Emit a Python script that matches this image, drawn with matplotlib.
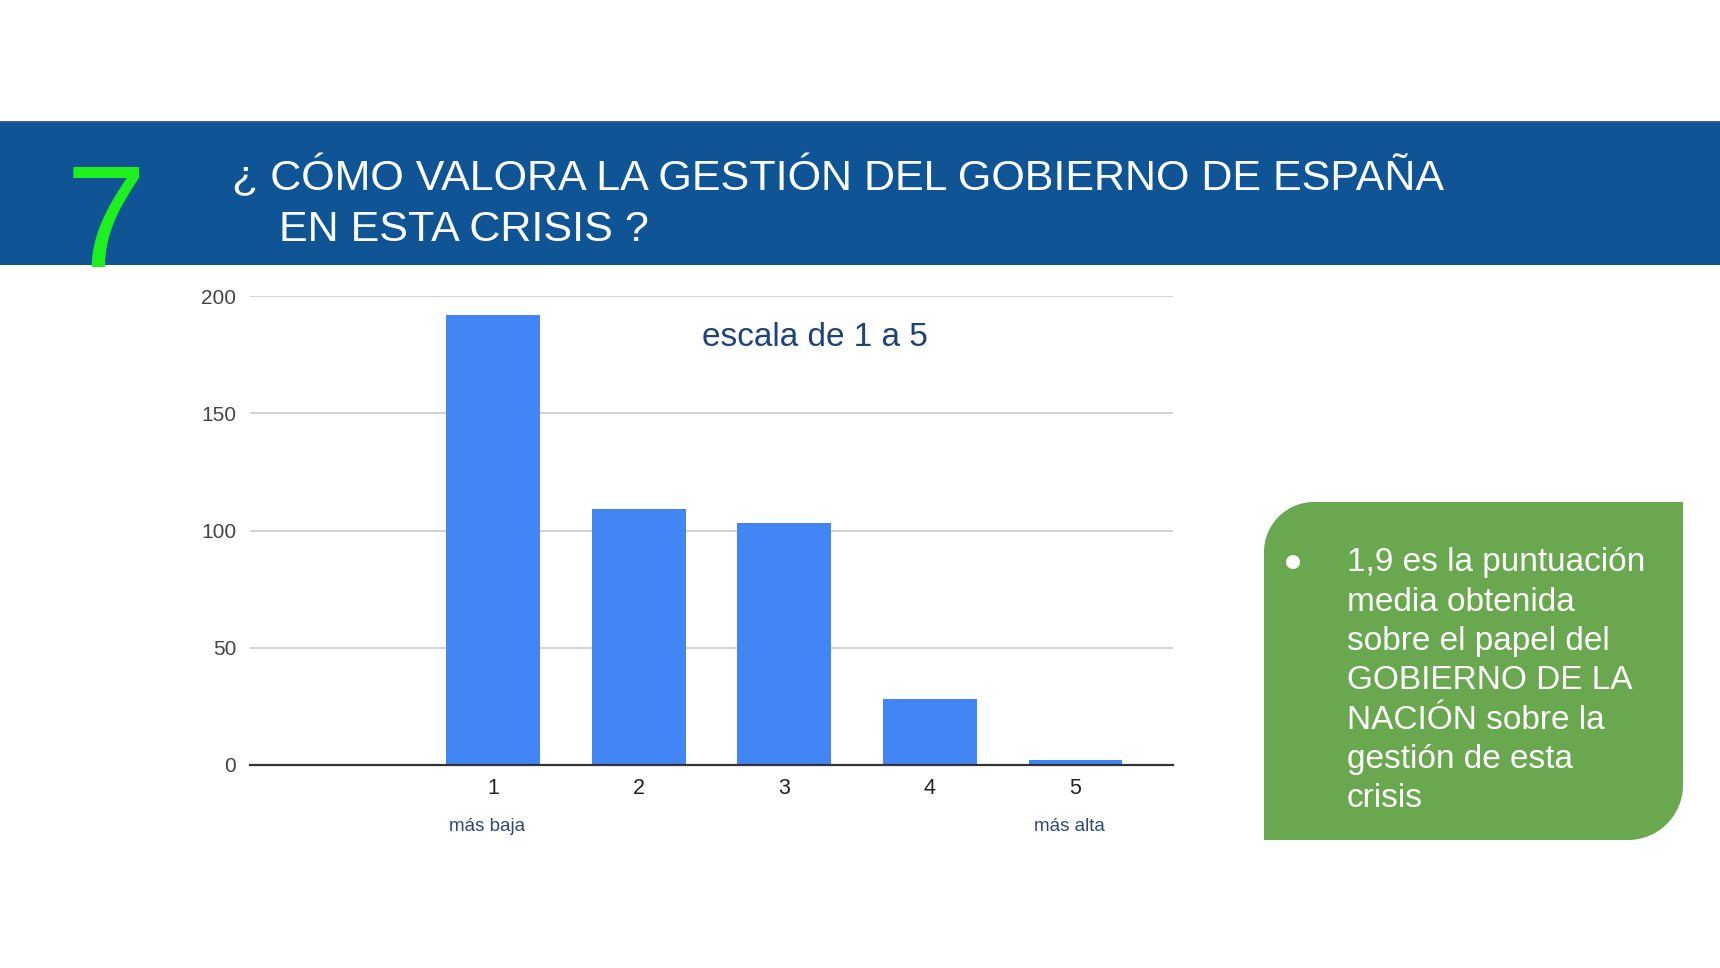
import matplotlib
matplotlib.use("Agg")
import matplotlib.pyplot as plt
from matplotlib.path import Path
from matplotlib.patches import PathPatch, Rectangle, Circle

# ---- data ----
categories = ["", "1", "2", "3", "4", "5"]
values = [0, 192, 109, 103, 28, 2]
scale_labels = {1: "más baja", 5: "más alta"}
y_ticks = [0, 50, 100, 150, 200]
title_lines = ["¿ CÓMO VALORA LA GESTIÓN DEL GOBIERNO DE ESPAÑA", "EN ESTA CRISIS ?"]
question_number = "7"
chart_note = "escala de 1 a 5"
box_lines = ["1,9 es la puntuación", "media obtenida", "sobre el papel del",
             "GOBIERNO DE LA", "NACIÓN sobre la", "gestión de esta", "crisis"]

plt.rcParams['font.family'] = ['Liberation Sans', 'DejaVu Sans']

W, H = 1720, 968
fig = plt.figure(figsize=(W / 100, H / 100), dpi=100)
fig.patch.set_facecolor("white")

# background layer in pixel coordinates
bg = fig.add_axes([0, 0, 1, 1])
bg.set_xlim(0, W)
bg.set_ylim(H, 0)
bg.axis("off")

# header band
bg.add_patch(Rectangle((0, 121), W, 144, facecolor="#0F5495", edgecolor="none"))
bg.plot([0, W], [121.5, 121.5], color="#3b5f86", lw=1.2)
bg.text(66, 267, question_number, color="#1EF01E", fontsize=104, va="baseline", ha="left")
bg.text(232, 190, title_lines[0], color="white", fontsize=31, va="baseline", ha="left")
bg.text(279, 241, title_lines[1], color="white", fontsize=31, va="baseline", ha="left")

# green box with rounded top-left and bottom-right corners
x0, x1, y0, y1 = 1264, 1683, 502, 840
r1, r2 = 50, 55
k = 0.5523
verts = [
    (x0 + r1, y0), (x1, y0), (x1, y1 - r2),
    (x1, y1 - r2 + k * r2), (x1 - r2 + k * r2, y1), (x1 - r2, y1),
    (x0, y1), (x0, y0 + r1),
    (x0, y0 + r1 - k * r1), (x0 + r1 - k * r1, y0), (x0 + r1, y0),
]
codes = [Path.MOVETO, Path.LINETO, Path.LINETO,
         Path.CURVE4, Path.CURVE4, Path.CURVE4,
         Path.LINETO, Path.LINETO,
         Path.CURVE4, Path.CURVE4, Path.CURVE4]
bg.add_patch(PathPatch(Path(verts, codes), facecolor="#6AA84F", edgecolor="none"))
bg.add_patch(Circle((1293, 562), 7, facecolor="white", edgecolor="none"))
for i, line in enumerate(box_lines):
    bg.text(1347, 563 + i * 39.3, line, color="white", fontsize=24, va="center", ha="left")

# chart axes
ax = fig.add_axes([250 / W, (H - 765) / H, (1173 - 250) / W, (765 - 296) / H])
x = list(range(len(categories)))
ax.bar(x, values, width=0.645, color="#4285F4", zorder=3)
ax.set_xlim(-0.67, len(categories) - 0.33)
ax.set_ylim(0, 200)
ax.set_yticks(y_ticks)
ax.set_yticklabels([str(t) for t in y_ticks], fontsize=15, color="#444444")
ax.set_xticks(x[1:])
ax.set_xticklabels(categories[1:], fontsize=15.5, color="#222222")
ax.tick_params(axis="both", length=0, pad=10)
ax.tick_params(axis="x", pad=9)
ax.grid(axis="y", color="#cccccc", lw=1.2, zorder=0)
for s in ["top", "right", "left"]:
    ax.spines[s].set_visible(False)
ax.spines["bottom"].set_color("#333333")
ax.spines["bottom"].set_linewidth(1.6)
ax.spines["bottom"].set_zorder(4)

trans = ax.get_xaxis_transform()
for pos, lab in scale_labels.items():
    ax.text(pos - 0.04, -0.132, lab, transform=trans, ha="center", va="center",
            fontsize=13.5, color="#2D4A7A")

ax.text(815, 337, chart_note, transform=bg.transData, ha="center", va="center",
        fontsize=24, color="#1F4277")

fig.savefig("out.png", dpi=100)
